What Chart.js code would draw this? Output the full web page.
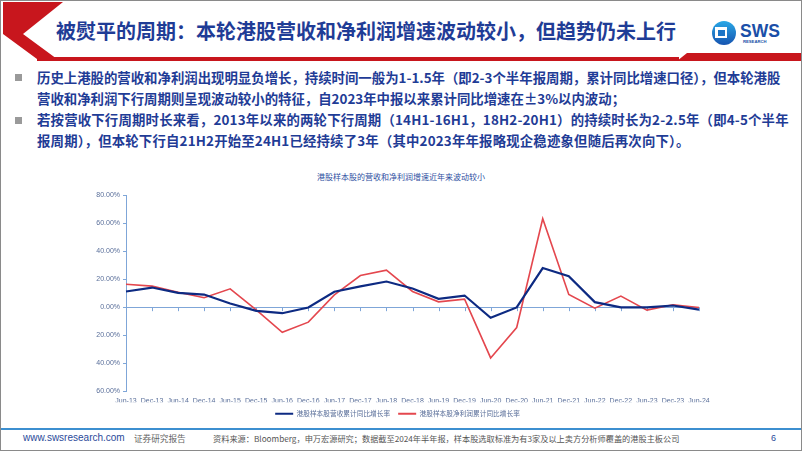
<!DOCTYPE html>
<html>
<head>
<meta charset="utf-8">
<script src="https://cdn.jsdelivr.net/npm/chart.js@4.4.0/dist/chart.umd.min.js"></script>
<style>
  html, body { margin: 0; padding: 0; background: #fff; }
  #page { position: relative; width: 800px; height: 449px; border: 1px solid #8a8a8a; overflow: hidden;
          font-family: "Noto Sans CJK SC", "Noto Sans", sans-serif; }
  #hdr { position: absolute; left: 0; top: 0; }
  #title { position: absolute; left: 55px; top: 16px; font-size: 20px; font-weight: bold; color: #1f3c96;
           white-space: nowrap; line-height: 28px; }
  #logo { position: absolute; left: 710px; top: 19px; }
  .bul { position: absolute; left: 36px; font-size: 13.4px; font-weight: bold; color: #1f3c96;
         line-height: 21px; white-space: nowrap; }
  .sq { position: absolute; left: 14px; width: 7px; height: 7px; background: #9a9a9a; }
  #ctitle { position: absolute; left: 0; width: 800px; top: 170px; text-align: center; font-size: 8px;
            color: #2f4f9f; line-height: 12px; }
  #wrap { position: absolute; left: 59px; top: 185px; width: 680px; height: 241px; }
  #fline { position: absolute; left: 0; top: 427px; width: 800px; height: 2px; background: #3c8fd0; }
  .ft { position: absolute; top: 430px; line-height: 14px; white-space: nowrap; }
</style>
</head>
<body>
<div id="page">
  <svg id="hdr" width="800" height="64">
    <polygon points="2,1 62,1 22,33 56,58 36,58 2,33" fill="#c8161d"/>
    <polygon points="36,56 678,56 678,60 36,60" fill="#c8161d"/>
    <polygon points="676,60 686,52 800,52 800,60" fill="#c8161d"/>
  </svg>
  <div id="title">被熨平的周期：本轮港股营收和净利润增速波动较小，但趋势仍未上行</div>
  <svg id="logo" width="80" height="28">
    <defs>
      <linearGradient id="lg" x1="0" y1="0" x2="0" y2="1">
        <stop offset="0" stop-color="#29a8e6"/>
        <stop offset="1" stop-color="#1654b0"/>
      </linearGradient>
    </defs>
    <circle cx="13" cy="13" r="12" fill="url(#lg)"/>
    <rect x="4" y="7" width="12" height="11" fill="#fff"/>
    <rect x="7" y="10" width="7" height="6" fill="#1c74c6"/>
    <text x="29" y="17" font-family="Liberation Sans, Arial" font-weight="bold" font-size="17.5" fill="#1a4fa8">SWS</text>
    <text x="32" y="23" font-family="Liberation Sans, Arial" font-weight="bold" font-size="4.2" fill="#1a4fa8">RESEARCH</text>
  </svg>

  <div class="sq" style="top:73px"></div>
  <div class="bul" style="top:66px">历史上港股的营收和净利润出现明显负增长，持续时间一般为1-1.5年（即2-3个半年报周期，累计同比增速口径），但本轮港股<br>营收和净利润下行周期则呈现波动较小的特征，自2023年中报以来累计同比增速在±3%以内波动；</div>
  <div class="sq" style="top:116px"></div>
  <div class="bul" style="top:108px; letter-spacing:0.18px">若按营收下行周期时长来看，2013年以来的两轮下行周期（14H1-16H1，18H2-20H1）的持续时长为2-2.5年（即4-5个半年<br>报周期），但本轮下行自21H2开始至24H1已经持续了3年（其中2023年年报略现企稳迹象但随后再次向下）。</div>

  <div id="ctitle">港股样本股的营收和净利润增速近年来波动较小</div>
  <div id="wrap"><canvas id="chart"></canvas></div>

  <div id="fline"></div>
  <div class="ft" style="left:22px; font-family:'Liberation Sans',Arial; font-size:10px; color:#2a4a9a">www.swsresearch.com</div>
  <div class="ft" style="left:133px; font-size:8.6px; color:#666">证券研究报告</div>
  <div class="ft" style="left:212px; font-size:8.2px; color:#555">资料来源：Bloomberg，申万宏源研究；数据截至2024年半年报，样本股选取标准为有3家及以上卖方分析师覆盖的港股主板公司</div>
  <div class="ft" style="left:770px; font-family:'Liberation Sans',Arial; font-size:9px; color:#2a4a9a">6</div>
</div>

<script>
// 数据：半年度累计同比增速（%）
const periods = ['Jun-13','Dec-13','Jun-14','Dec-14','Jun-15','Dec-15','Jun-16','Dec-16','Jun-17','Dec-17',
                 'Jun-18','Dec-18','Jun-19','Dec-19','Jun-20','Dec-20','Jun-21','Dec-21','Jun-22','Dec-22',
                 'Jun-23','Dec-23','Jun-24'];
const revenueGrowth = [11.2, 14.0, 10.2, 9.0, 2.6, -2.6, -4.3, -0.2, 11.0, 14.8,
                       18.3, 13.3, 6.0, 8.3, -7.6, -0.2, 27.9, 22.1, 3.6, -0.2,
                       -0.2, 1.2, -1.7];
const profitGrowth = [16.4, 15.0, 10.7, 6.7, 13.1, -1.9, -17.9, -10.7, 8.8, 22.6,
                      26.4, 11.2, 3.8, 5.7, -36.2, -14.5, 63.1, 9.0, -0.7, 7.9,
                      -2.1, 1.7, -0.2];
const yTicks = { min: -60, max: 80, step: 20 };

const axisBlue = '#7fa6d8';
const labelColor = '#5a6f9a';

// 零轴上的小刻度
const zeroTicks = {
    id: 'zeroTicks',
    beforeDatasetsDraw(chart) {
        const { ctx, scales: { x, y } } = chart;
        const y0 = y.getPixelForValue(0);
        ctx.save();
        ctx.strokeStyle = axisBlue;
        ctx.lineWidth = 1;
        for (let i = 1; i < periods.length; i++) {
            const px = Math.round(x.getPixelForValue(i)) + 0.5;
            ctx.beginPath();
            ctx.moveTo(px, y0);
            ctx.lineTo(px, y0 + 4);
            ctx.stroke();
        }
        ctx.restore();
    }
};

const ctx = document.getElementById('chart').getContext('2d');
const chart = new Chart(ctx, {
    type: 'line',
    data: {
        labels: periods,
        datasets: [{
            label: '港股样本股营收累计同比增长率',
            data: revenueGrowth,
            borderColor: '#0d2a82',
            backgroundColor: '#0d2a82',
            borderWidth: 2.2, pointRadius: 0, tension: 0
        }, {
            label: '港股样本股净利润累计同比增长率',
            data: profitGrowth,
            borderColor: '#e4474e',
            backgroundColor: '#e4474e',
            borderWidth: 1.6, pointRadius: 0, tension: 0
        }]
    },
    options: {
        responsive: true, maintainAspectRatio: false, animation: false,
        layout: { padding: { top: 9, right: 41, left: 36, bottom: 0 } },
        plugins: {
            title: { display: false },
            tooltip: { enabled: false },
            legend: {
                position: 'bottom',
                labels: {
                    font: { family: 'Noto Sans CJK SC', size: 6.7 },
                    color: labelColor,
                    boxWidth: 18, boxHeight: 2, padding: 8,
                    generateLabels(c) {
                        return Chart.defaults.plugins.legend.labels.generateLabels(c)
                            .map(l => Object.assign(l, { lineWidth: 0 }));
                    }
                }
            }
        },
        scales: {
            x: {
                offset: false,
                grid: { display: false, tickLength: 3 },
                border: { display: false },
                afterFit(s) { s.height = 11; },
                ticks: {
                    autoSkip: false, maxRotation: 0, padding: 3,
                    font: { family: 'Liberation Sans', size: 7 }, color: labelColor
                }
            },
            y: {
                min: yTicks.min, max: yTicks.max,
                afterFit(s) { s.width = 30; },
                border: { display: true, color: axisBlue, width: 1 },
                grid: {
                    drawTicks: true, tickLength: 3, tickColor: axisBlue,
                    color: c => (c.tick && c.tick.value === 0) ? axisBlue : 'rgba(0,0,0,0)'
                },
                ticks: {
                    stepSize: yTicks.step, padding: 3,
                    font: { family: 'Liberation Sans', size: 7 }, color: labelColor,
                    callback: v => v.toFixed(2) + '%'
                }
            }
        }
    },
    plugins: [zeroTicks]
});
</script>
</body>
</html>
